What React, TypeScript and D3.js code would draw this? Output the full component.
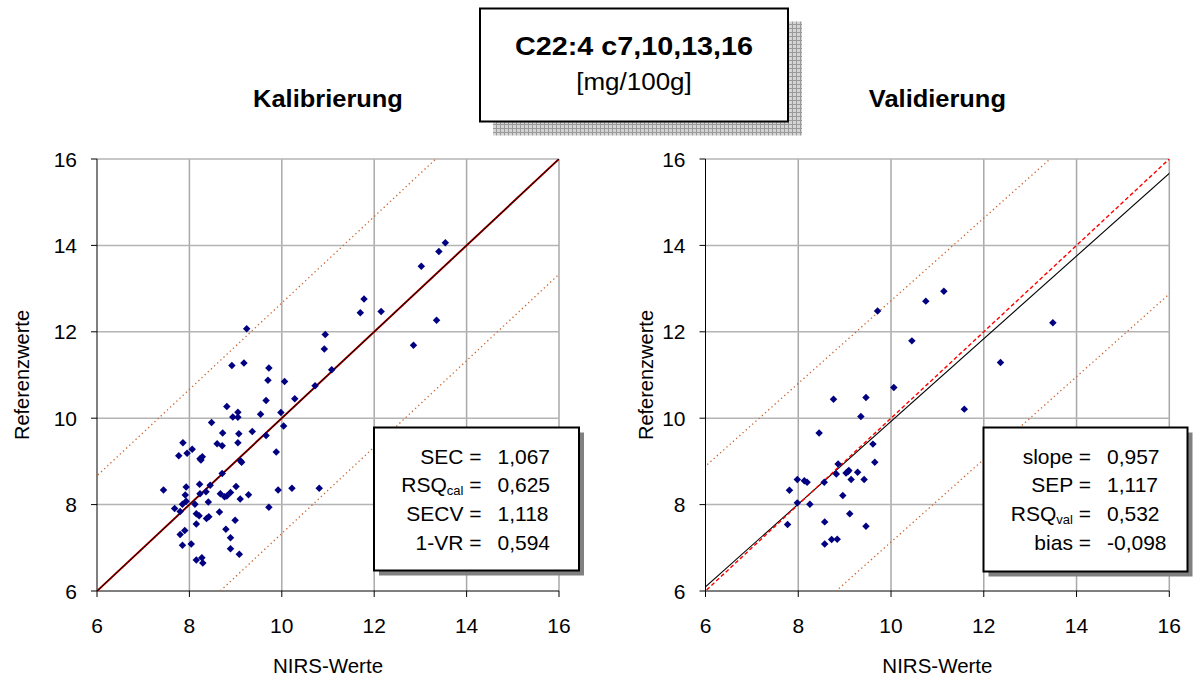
import React from "react";
import * as d3 from "d3";

// ---------- data ----------
const ticks = [6, 8, 10, 12, 14, 16];

const calX = [9.24, 10.94, 10.92, 8.92, 9.18, 9.72, 9.70, 10.06, 11.08, 10.72, 9.66, 10.28, 8.81,
  9.05, 8.94, 9.05, 9.54, 9.98, 8.48, 10.04, 8.72, 9.07, 9.36, 9.66, 7.86, 8.60, 8.71, 9.05, 8.06,
  7.77, 7.95, 8.28, 8.23, 8.25, 9.88, 9.11, 9.13, 8.71, 7.44, 7.93, 8.22, 8.45, 8.36, 8.23, 7.91,
  7.93, 7.85, 9.01, 8.67, 8.89, 8.76, 8.81, 9.10, 9.28, 8.41, 9.92, 10.22, 10.81, 7.68, 7.80, 8.12,
  8.15, 8.21, 8.65, 8.37, 8.42, 9.72, 8.99, 8.15, 7.90, 7.80, 8.79, 8.89, 7.85, 8.04, 8.89, 9.08,
  8.27, 8.15, 8.29, 13.54, 13.40, 13.02, 11.78, 11.70, 12.15, 13.35, 12.85];
const calY = [12.07, 11.94, 11.60, 11.22, 11.28, 11.16, 10.88, 10.85, 11.12, 10.75, 10.41, 10.45, 10.27,
  10.14, 10.03, 10.02, 10.09, 10.13, 9.90, 9.82, 9.66, 9.64, 9.69, 9.60, 9.43, 9.41, 9.36, 9.43, 9.28,
  9.13, 9.19, 9.11, 9.06, 9.03, 9.22, 9.01, 8.98, 8.72, 8.34, 8.41, 8.47, 8.45, 8.30, 8.25, 8.22,
  8.08, 8.01, 8.42, 8.25, 8.28, 8.18, 8.20, 8.13, 8.23, 8.06, 8.34, 8.38, 8.38, 7.91, 7.84, 8.01,
  7.79, 7.74, 7.83, 7.68, 7.72, 7.94, 7.64, 7.55, 7.40, 7.31, 7.43, 7.23, 7.06, 7.09, 6.98, 6.85,
  6.77, 6.72, 6.65, 14.06, 13.86, 13.52, 12.76, 12.44, 12.47, 12.27, 11.69];

const valX = [11.14, 13.49, 12.36, 11.58, 10.75, 9.71, 10.45, 10.06, 8.76, 9.46, 9.35, 8.45, 9.61,
  9.65, 8.86, 8.82, 9.03, 9.07, 9.09, 9.28, 9.14, 9.42, 7.98, 8.13, 8.19, 8.56, 7.81, 8.96, 7.98,
  8.25, 9.11, 7.77, 8.57, 9.46, 8.57, 8.72, 8.84];
const valY = [12.94, 12.21, 11.29, 10.21, 12.71, 12.48, 11.79, 10.71, 10.44, 10.48, 10.04, 9.66, 9.40,
  8.98, 8.94, 8.71, 8.73, 8.76, 8.79, 8.75, 8.58, 8.58, 8.58, 8.55, 8.52, 8.52, 8.33, 8.21, 8.04,
  8.01, 7.79, 7.54, 7.60, 7.50, 7.09, 7.19, 7.20];

const calStatsLabels = ["SEC", "RSQ|cal", "SECV", "1-VR"];
const calStatsValues = ["1,067", "0,625", "1,118", "0,594"];
const valStatsLabels = ["slope", "SEP", "RSQ|val", "bias"];
const valStatsValues = ["0,957", "1,117", "0,532", "-0,098"];

const calSEC = 1.067;
const valSlope = 0.957;
const valIntercept = 0.356;
const valSEP = 1.117;

const FONT = "'Liberation Sans', Arial, Helvetica, sans-serif";

type PanelProps = {
  id: string;
  x0: number;
  x1: number;
  title: string;
  yLabelOffset: number;
  xs: number[];
  ys: number[];
  lines: { slope: number; intercept: number; stroke: string; width: number; dash?: string }[];
  box: { x: number; y: number; w: number; h: number };
  statLabels: string[];
  statValues: string[];
};

function Panel(p: PanelProps) {
  const x = d3.scaleLinear().domain([6, 16]).range([p.x0, p.x1]);
  const y = d3.scaleLinear().domain([6, 16]).range([591, 159]);
  const [xa, xb] = x.range();
  const [yb, ya] = y.range();
  const sym = d3.symbol().type(d3.symbolSquare).size(28)();
  const lineGen = d3.line<[number, number]>().x((d) => x(d[0])).y((d) => y(d[1]));
  const cx = (xa + xb) / 2;
  return (
    <g>
      <defs>
        <clipPath id={p.id + "clip"}>
          <rect x={xa} y={ya} width={xb - xa} height={yb - ya} />
        </clipPath>
      </defs>
      {/* grid */}
      {ticks.slice(1).map((t) => (
        <line key={"gx" + t} x1={x(t)} x2={x(t)} y1={ya} y2={yb} stroke="#a9a9a9" strokeWidth={1.5} />
      ))}
      {ticks.slice(1).map((t) => (
        <line key={"gy" + t} x1={xa} x2={xb} y1={y(t)} y2={y(t)} stroke="#b4b4b4" strokeWidth={1.5} />
      ))}
      {/* axes */}
      <line x1={xa} x2={xa} y1={ya} y2={yb} stroke="#000" strokeWidth={1} />
      <line x1={xa} x2={xb} y1={yb} y2={yb} stroke="#000" strokeWidth={1} />
      {ticks.map((t) => (
        <g key={"t" + t}>
          <line x1={xa - 6} x2={xa} y1={y(t)} y2={y(t)} stroke="#000" />
          <line x1={x(t)} x2={x(t)} y1={yb} y2={yb + 6} stroke="#000" />
          <text x={xa - 20} y={y(t) + 7.5} textAnchor="end" fontSize={21} fontFamily={FONT}>{t}</text>
          <text x={x(t)} y={633} textAnchor="middle" fontSize={21} fontFamily={FONT}>{t}</text>
        </g>
      ))}
      {/* lines */}
      <g clipPath={`url(#${p.id}clip)`}>
        {p.lines.map((l, i) => (
          <path
            key={"l" + i}
            d={lineGen([[5, 5 * l.slope + l.intercept], [17, 17 * l.slope + l.intercept]]) || ""}
            fill="none"
            stroke={l.stroke}
            strokeWidth={l.width}
            strokeDasharray={l.dash}
          />
        ))}
      </g>
      {/* points */}
      {p.xs.map((v, i) => (
        <path key={"p" + i} d={sym || ""} transform={`translate(${x(v)},${y(p.ys[i])}) rotate(45)`} fill="#000080" />
      ))}
      {/* titles */}
      <text transform={`translate(${cx},107) scale(1.06,1)`} textAnchor="middle" fontSize={24} fontWeight="bold" fontFamily={FONT}>{p.title}</text>
      <text x={cx} y={673} textAnchor="middle" fontSize={20.5} fontFamily={FONT}>NIRS-Werte</text>
      <text transform={`translate(${xa - p.yLabelOffset},375) rotate(-90)`} textAnchor="middle" fontSize={20} fontFamily={FONT}>Referenzwerte</text>
      {/* stats box */}
      <rect x={p.box.x + 5} y={p.box.y + 5} width={p.box.w} height={p.box.h} fill="#808080" />
      <rect x={p.box.x} y={p.box.y} width={p.box.w} height={p.box.h} fill="#fff" stroke="#000" strokeWidth={2} />
      {p.statLabels.map((lab, i) => {
        const [main, sub] = lab.split("|");
        const by = p.box.y + 36 + i * 28.7;
        return (
          <g key={"s" + i}>
            <text x={p.box.x + 107.5} y={by} textAnchor="end" fontSize={21} fontFamily={FONT}>
              {main}
              {sub ? <tspan fontSize={13} dy={3}>{sub}</tspan> : null}
              {sub ? <tspan dy={-3}>{" ="}</tspan> : " ="}
            </text>
            <text x={p.box.x + 123.5} y={by} fontSize={21} fontFamily={FONT}>{p.statValues[i]}</text>
          </g>
        );
      })}
    </g>
  );
}

export default function App() {
  return (
    <svg width={1194} height={679} style={{ position: "absolute", left: 0, top: 0, background: "#fff" }}>
      <defs>
        <pattern id="hatch" width={4} height={4} patternUnits="userSpaceOnUse">
          <rect width={4} height={4} fill="#d4d4d4" />
          <path d="M0,0.5H4M0.5,0V4" stroke="#9a9a9a" strokeWidth={1} />
        </pattern>
      </defs>
      <rect width={1194} height={679} fill="#fff" />
      <Panel
        id="cal"
        x0={97}
        x1={559}
        title="Kalibrierung"
        yLabelOffset={68}
        xs={calX}
        ys={calY}
        lines={[
          { slope: 1, intercept: 2.5 * calSEC, stroke: "#c8642d", width: 1.3, dash: "1.3,3" },
          { slope: 1, intercept: -2.5 * calSEC, stroke: "#c8642d", width: 1.3, dash: "1.3,3" },
          { slope: 1, intercept: 0, stroke: "#ff0000", width: 2 },
          { slope: 1, intercept: 0, stroke: "#1a0000", width: 1.2 },
        ]}
        box={{ x: 374, y: 427.5, w: 205, h: 143 }}
        statLabels={calStatsLabels}
        statValues={calStatsValues}
      />
      <Panel
        id="val"
        x0={705.5}
        x1={1169.3}
        title="Validierung"
        yLabelOffset={53}
        xs={valX}
        ys={valY}
        lines={[
          { slope: valSlope, intercept: valIntercept + 2.5 * valSEP, stroke: "#c8642d", width: 1.3, dash: "1.3,3" },
          { slope: valSlope, intercept: valIntercept - 2.5 * valSEP, stroke: "#c8642d", width: 1.3, dash: "1.3,3" },
          { slope: valSlope, intercept: valIntercept, stroke: "#000", width: 1.1 },
          { slope: 1, intercept: 0, stroke: "#ff0000", width: 1.4, dash: "4,2.5" },
        ]}
        box={{ x: 983.5, y: 427.5, w: 204, h: 144 }}
        statLabels={valStatsLabels}
        statValues={valStatsValues}
      />
      {/* title box */}
      <rect x={493} y={21.5} width={309} height={114} fill="url(#hatch)" />
      <rect x={480} y={8.5} width={308} height={113} fill="#fff" stroke="#000" strokeWidth={2} />
      <text transform="translate(634,55) scale(1.15,1)" textAnchor="middle" fontSize={25} fontWeight="bold" fontFamily={FONT}>C22:4 c7,10,13,16</text>
      <text transform="translate(634,90) scale(1.13,1)" textAnchor="middle" fontSize={23} fontFamily={FONT}>[mg/100g]</text>
    </svg>
  );
}
